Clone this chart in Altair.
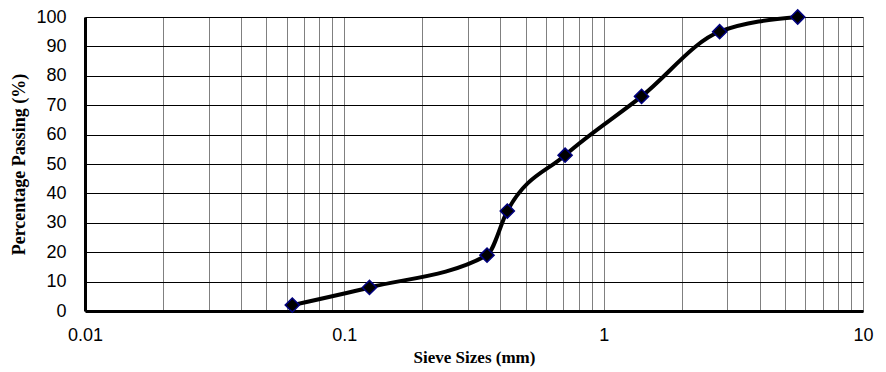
import altair as alt
import pandas as pd

sizes = [0.063, 0.125, 0.355, 0.425, 0.71, 1.4, 2.8, 5.6]
passing = [2, 8, 19, 34, 53, 73, 95, 100]

x_grid = [m * 10 ** e for e in (-2, -1, 0) for m in range(1, 10)] + [10]
y_ticks = [0, 10, 20, 30, 40, 50, 60, 70, 80, 90, 100]

df = pd.DataFrame({"size": sizes, "pass": passing})

xscale = alt.Scale(type="log", domain=[0.01, 10])
yscale = alt.Scale(domain=[0, 100])

xaxis = alt.Axis(
    values=x_grid,
    labelExpr="(abs(log(datum.value)/LN10 - round(log(datum.value)/LN10)) < 1e-6) ? datum.value : ''",
    format="~g",
    grid=True, gridColor="#808080", gridWidth=1, gridOpacity=1,
    ticks=False, domainColor="black", domainWidth=3,
    labelFont="Liberation Sans", labelFontSize=18, labelColor="black",
    labelPadding=15, labelFlush=False, labelOverlap=False,
    title="Sieve Sizes (mm)", titleFont="Liberation Serif", titleFontSize=17,
    titleFontWeight="bold", titleColor="black", titlePadding=5,
)
yaxis = alt.Axis(
    values=y_ticks, tickCount=11, grid=True, gridColor="black", gridWidth=1, gridOpacity=1,
    ticks=False, domainColor="black", domainWidth=3,
    labelFont="Liberation Sans", labelFontSize=18, labelColor="black",
    labelPadding=19, labelOverlap=False, labelFlush=False,
    title="Percentage Passing (%)", titleFont="Liberation Serif", titleFontSize=18,
    titleFontWeight="bold", titleColor="black", titlePadding=7,
)

chart = alt.Chart(df).mark_line(
    color="black", strokeWidth=4, interpolate="monotone",
    point=alt.OverlayMarkDef(shape="diamond", filled=True, fill="black", stroke="#00007f",
                             strokeWidth=1.5, size=200, opacity=1),
).encode(
    x=alt.X("size:Q", scale=xscale, axis=xaxis),
    y=alt.Y("pass:Q", scale=yscale, axis=yaxis),
).properties(
    width=778, height=294,
    autosize=alt.AutoSizeParams(type="none"),
    padding={"left": 77, "top": 9, "right": 15, "bottom": 60},
).configure_view(stroke="#808080", strokeWidth=1.5).configure(background="white")

chart.save("out.html", embed_options={"renderer": "svg", "actions": False})
